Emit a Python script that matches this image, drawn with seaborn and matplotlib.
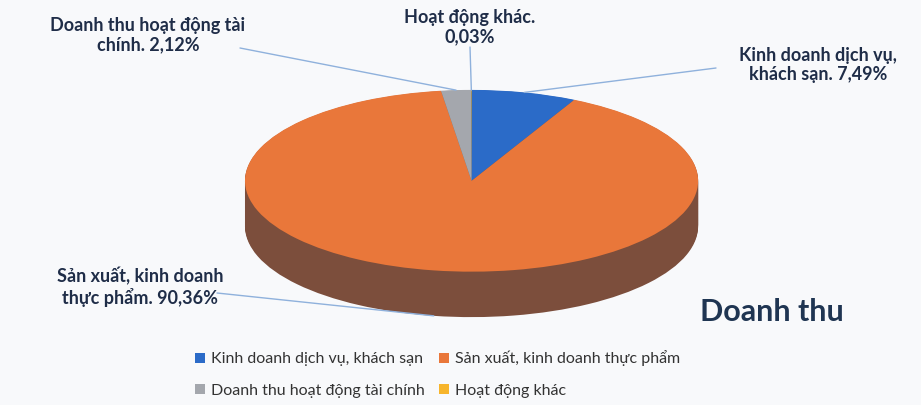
import numpy as np
import matplotlib
matplotlib.use("Agg")
import matplotlib.pyplot as plt
import seaborn as sns

categories = ["Kinh doanh dịch vụ, khách sạn", "Sản xuất, kinh doanh thực phẩm",
              "Doanh thu hoạt động tài chính", "Hoạt động khác"]
shares = [7.49, 90.36, 2.12, 0.03]
share_labels = ["7,49%", "90,36%", "2,12%", "0,03%"]
label_text = ["Kinh doanh dịch vụ,\nkhách sạn. 7,49%", "Sản xuất, kinh doanh\nthực phẩm. 90,36%",
              "Doanh thu hoạt động tài\nchính. 2,12%", "Hoạt động khác.\n0,03%"]

top_colors = ["#2b6bc8", "#e9773a", "#a4a7ad", "#f7b52c"]
side_colors = ["#1d4b8c", "#7c4e3c", "#74767a", "#b07f1f"]

sns.set_theme(style="white")
plt.rcParams["font.family"] = ["Lato", "Open Sans", "DejaVu Sans"]

fig = plt.figure(figsize=(9.21, 4.05), dpi=100)
fig.patch.set_facecolor("#f8f9fb")

# pie axes: ellipse stretched to axes box, depth drawn underneath
depth = 0.5
ax = fig.add_axes([0.266, 0.217, 0.492, 0.561])
ax.axis("off")

for off in np.linspace(depth, 0.005, 40):
    ax.pie(shares, colors=side_colors, startangle=90, counterclock=False,
           center=(0, -off), radius=1, wedgeprops=dict(linewidth=0))
wedges, _ = ax.pie(shares, colors=top_colors, startangle=90, counterclock=False,
                   center=(0, 0), radius=1, wedgeprops=dict(linewidth=0))
ax.set_aspect("auto")
ax.set_xlim(-1, 1)
ax.set_ylim(-1 - depth, 1)

# labels with leader lines
label_pos = [(818 / 921, 1 - 65 / 405), (140 / 921, 1 - 287 / 405),
             (148 / 921, 1 - 35 / 405), (470 / 921, 1 - 27 / 405)]
line_start = [(716 / 921, 1 - 68 / 405), (217 / 921, 1 - 293 / 405),
              (240 / 921, 1 - 48 / 405), (470 / 921, 1 - 47 / 405)]
for i, w in enumerate(wedges):
    mid = np.deg2rad((w.theta1 + w.theta2) / 2)
    px, py = np.cos(mid), np.sin(mid)
    if py < 0:
        py = py - depth
    ax.annotate("", xy=(px, py), xycoords="data",
                xytext=line_start[i], textcoords="figure fraction",
                arrowprops=dict(arrowstyle="-", color="#8fb1dc", lw=1.0,
                                shrinkA=0, shrinkB=0),
                annotation_clip=False)
    fig.text(label_pos[i][0], label_pos[i][1], label_text[i], ha="center", va="center",
             fontsize=13, fontweight="bold", color="#1f2d48", linespacing=1.15)

fig.text(700 / 921, 1 - 312 / 405, "Doanh thu", ha="left", va="center",
         fontsize=22, fontweight="bold", color="#1f3552")

# legend fills column-wise, so reorder to get row-wise layout
order = [0, 2, 1, 3]
fig.legend([wedges[k] for k in order], [categories[k] for k in order],
           loc="upper left", bbox_to_anchor=(181 / 921, 1 - 336 / 405),
           ncol=2, frameon=False, fontsize=11.5, handlelength=0.6, handleheight=0.6,
           handletextpad=0.4, columnspacing=0.9, labelspacing=1.1, labelcolor="#333333")

plt.savefig("out.png", dpi=100, facecolor=fig.get_facecolor())
